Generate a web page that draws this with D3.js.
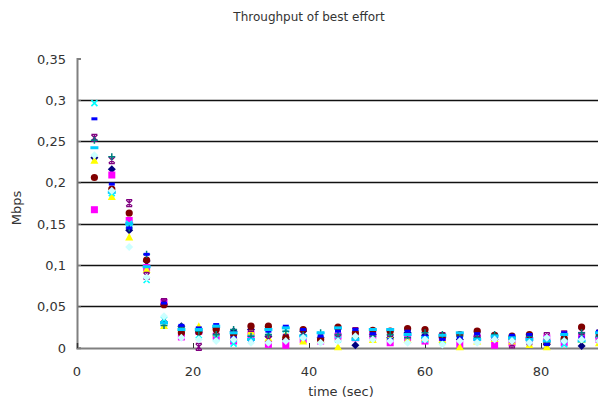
<!DOCTYPE html>
<html><head><meta charset="utf-8">
<script src="https://cdn.jsdelivr.net/npm/d3@7"></script>
<style>body{margin:0;background:#fff}svg{display:block}text{font-family:"DejaVu Sans",sans-serif;fill:#333}</style>
</head><body>
<script>
const times = [3,6,9,12,15,18,21,24,27,30,33,36,39,42,45,48,51,54,57,60,63,66,69,72,75,78,81,84,87,90];
const yTicks = [0,0.05,0.1,0.15,0.2,0.25,0.3,0.35];
const xTicks = [0,20,40,60,80];
const sNavy    = [.230,.216,.142,.105,.031,.026,.018,.024,.020,.022,.014,.010,.020,.012,.023,.003,.016,.012,.018,.015,.012,.010,.014,.010,.013,.012,.004,.008,.002,.012];
const sMagenta = [.167,.209,.154,.097,.055,.013,.020,.014,.008,.016,.004,.003,.010,.008,.014,.012,.015,.006,.012,.008,.012,.004,.012,.003,.006,.010,.012,.006,.015,.010];
const sYellow  = [.227,.183,.134,.095,.027,.024,.026,.018,.014,.020,.012,.016,.008,.010,.001,.016,.010,.014,.010,.012,.010,.001,.008,.011,.008,.004,.001,.014,.010,.006];
const sCyan    = [.296,.187,.150,.082,.034,.020,.015,.012,.005,.012,.018,.022,.013,.016,.010,.018,.020,.012,.018,.010,.008,.015,.016,.013,.012,.011,.010,.004,.014,.016];
const sPurple  = [.254,.227,.175,.087,.055,.022,.001,.020,.015,.024,.010,.012,.018,.014,.012,.020,.013,.018,.020,.016,.014,.012,.018,.013,.004,.008,.014,.016,.020,.012];
const sDarkRed = [.206,.192,.163,.106,.052,.018,.019,.022,.016,.026,.026,.012,.022,.010,.025,.018,.021,.020,.023,.022,.014,.016,.020,.015,.014,.016,.006,.011,.025,.018];
const sTeal    = [.251,.231,.145,.113,.027,.025,.020,.016,.022,.014,.016,.020,.015,.018,.016,.012,.014,.016,.012,.018,.016,.014,.012,.016,.010,.014,.008,.010,.018,.014];
const sBlue    = [.277,.198,.145,.113,.054,.027,.024,.028,.012,.008,.020,.026,.022,.014,.020,.022,.017,.010,.020,.014,.010,.012,.017,.012,.015,.016,.004,.018,.012,.020];
const sSky     = [.242,.188,.150,.098,.030,.022,.022,.026,.018,.010,.022,.024,.014,.018,.024,.010,.022,.022,.016,.012,.015,.018,.010,.014,.012,.010,.008,.016,.008,.018];
const sPale    = [.233,.190,.122,.085,.038,.012,.010,.008,.010,.006,.006,.008,.012,.006,.008,.014,.010,.008,.006,.010,.004,.008,.006,.010,.008,.006,.012,.008,.010,.008];

const series = [
  {v:sNavy, c:"#000080", m:"diamond"},
  {v:sMagenta, c:"#FF00FF", m:"square"},
  {v:sYellow, c:"#FFFF00", m:"triangle"},
  {v:sCyan, c:"#00FFFF", m:"x"},
  {v:sPurple, c:"#800080", m:"star"},
  {v:sDarkRed, c:"#800000", m:"circle"},
  {v:sTeal, c:"#008080", m:"plus"},
  {v:sBlue, c:"#0000FF", m:"dash"},
  {v:sSky, c:"#00CCFF", m:"longdash"},
  {v:sPale, c:"#CCFFFF", m:"diamond"}
];

const W=598,H=403;
const svg=d3.select("body").append("svg").attr("width",W).attr("height",H);
const x=d3.scaleLinear().domain([0,90]).range([77,599]);
const y=d3.scaleLinear().domain([0,0.35]).range([347.7,58.5]);

svg.append("text").attr("x",309).attr("y",21).attr("text-anchor","middle").style("font-size","12px").text("Throughput of best effort");

// gridlines
svg.append("g").selectAll("line").data(yTicks.filter(t=>t>0&&t<0.35)).join("line")
  .attr("x1",77).attr("x2",W).attr("y1",d=>Math.round(y(d))+0.5).attr("y2",d=>Math.round(y(d))+0.5)
  .attr("stroke","#111").attr("stroke-width",1.3);

// axes
const fmt=d=>String(+d.toFixed(2)).replace(".",",");
const ya=svg.append("g").attr("transform","translate(77,0)")
  .call(d3.axisRight(y).tickValues(yTicks).tickSize(4).tickFormat(""));
ya.select(".domain").attr("stroke","#808080").attr("stroke-width",2);
ya.selectAll(".tick line").attr("stroke","#808080");
svg.append("g").selectAll("text").data(yTicks).join("text")
  .attr("x",66).attr("y",d=>y(d)+5).attr("text-anchor","end").style("font-size","13px").text(fmt);

const xa=svg.append("g").attr("transform","translate(0,348)")
  .call(d3.axisTop(x).tickValues(xTicks).tickSize(5).tickFormat(""));
xa.select(".domain").attr("stroke","#808080").attr("stroke-width",2);
xa.selectAll(".tick line").attr("stroke","#333");
svg.append("g").selectAll("text").data(xTicks).join("text")
  .attr("x",d=>x(d)).attr("y",376).attr("text-anchor","middle").style("font-size","13px").text(d=>d);

svg.append("text").attr("x",341).attr("y",396).attr("text-anchor","middle").style("font-size","13px").text("time (sec)");
svg.append("text").attr("transform","translate(21,208) rotate(-90)").attr("text-anchor","middle").style("font-size","13px").text("Mbps");

// markers
function marker(g,m,c){
  if(m==="diamond") g.append("path").attr("d","M0,-4L4,0L0,4L-4,0Z").attr("fill",c);
  else if(m==="square") g.append("rect").attr("x",-3.5).attr("y",-3.5).attr("width",7).attr("height",7).attr("fill",c);
  else if(m==="triangle") g.append("path").attr("d","M0,-4L4,3.5L-4,3.5Z").attr("fill",c);
  else if(m==="circle") g.append("circle").attr("r",3.6).attr("fill",c);
  else if(m==="x") g.append("path").attr("d","M-3,-3L3,3M3,-3L-3,3").attr("stroke",c).attr("stroke-width",1.6);
  else if(m==="star") g.append("path").attr("d","M-3,-3L3,3M3,-3L-3,3M-3,-3.5H3M-3,3.5H3M0,-3.5V3.5").attr("stroke",c).attr("stroke-width",1.3);
  else if(m==="plus") g.append("path").attr("d","M-3.5,0H3.5M0,-3.5V3.5").attr("stroke",c).attr("stroke-width",1.5);
  else if(m==="dash") g.append("rect").attr("x",-3).attr("y",-1.5).attr("width",6).attr("height",3).attr("fill",c);
  else if(m==="longdash") g.append("rect").attr("x",-4).attr("y",-1.5).attr("width",8).attr("height",3).attr("fill",c);
}
const clip=svg.append("clipPath").attr("id","cp").append("rect").attr("x",0).attr("y",40).attr("width",W).attr("height",312);
const pts=svg.append("g").attr("clip-path","url(#cp)");
series.forEach(s=>{
  s.v.forEach((v,i)=>{
    const g=pts.append("g").attr("transform",`translate(${x(times[i])},${y(v)})`);
    marker(g,s.m,s.c);
  });
});
</script>
</body></html>
